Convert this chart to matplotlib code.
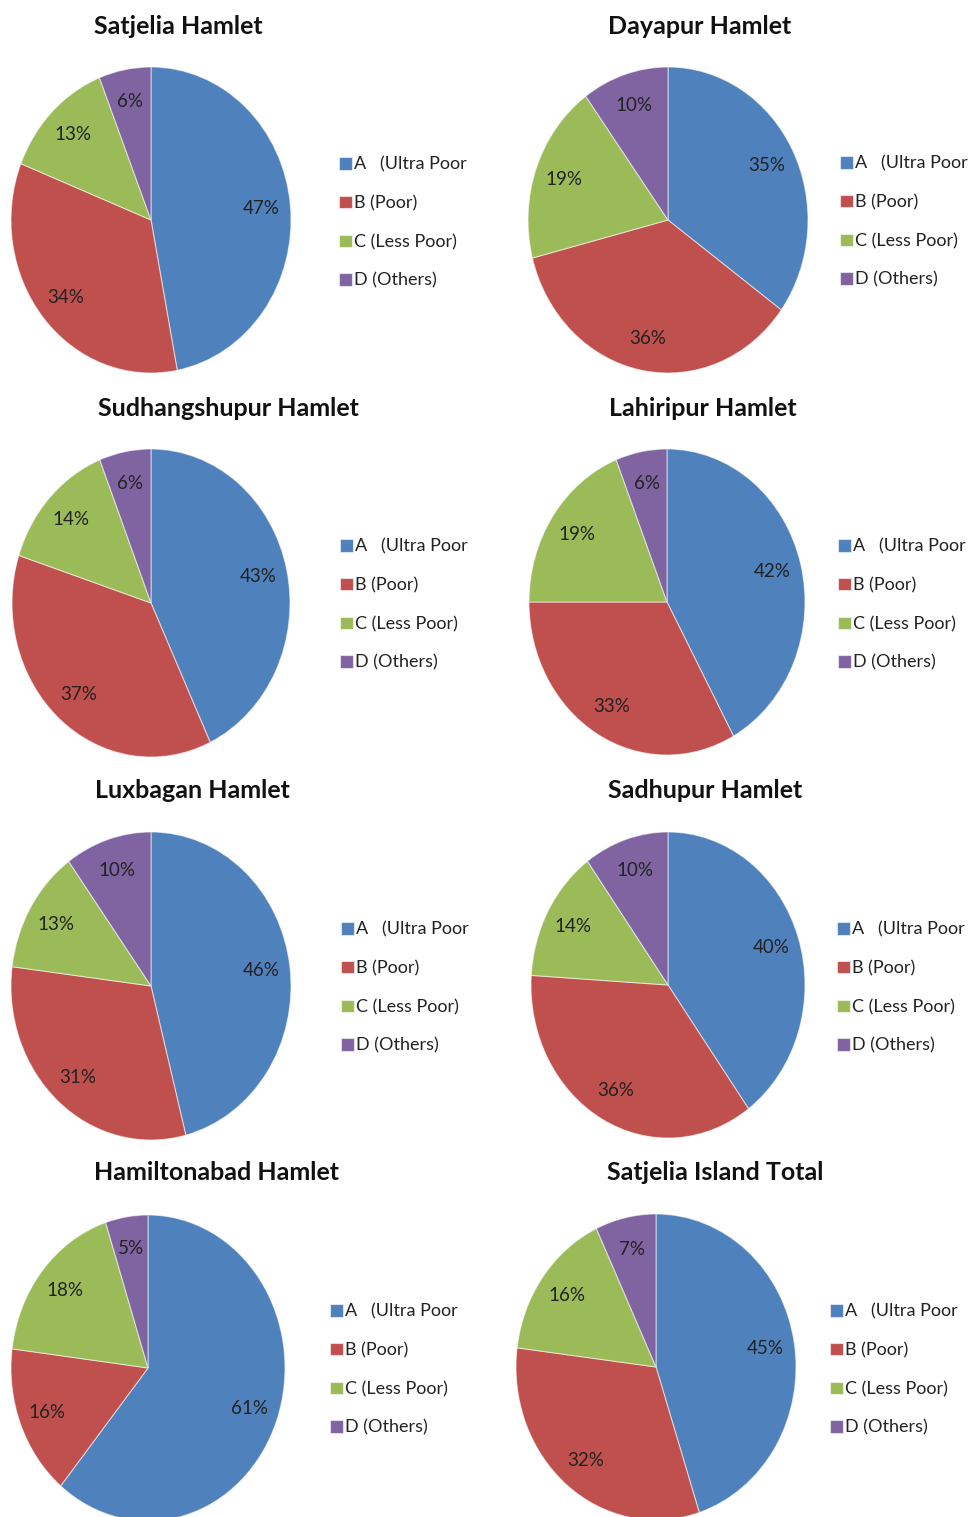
import matplotlib
matplotlib.use("Agg")
import matplotlib.pyplot as plt

plt.rcParams['font.family'] = ['Lato', 'DejaVu Sans']

# data
titles = ["Satjelia Hamlet", "Dayapur Hamlet", "Sudhangshupur Hamlet", "Lahiripur Hamlet",
          "Luxbagan Hamlet", "Sadhupur Hamlet", "Hamiltonabad Hamlet", "Satjelia Island Total"]
categories = ["A   (Ultra Poor", "B (Poor)", "C (Less Poor)", "D (Others)"]
satjelia = [47, 34, 13, 6]
dayapur = [35, 36, 19, 10]
sudhangshupur = [43, 37, 14, 6]
lahiripur = [42, 33, 19, 6]
luxbagan = [46, 31, 13, 10]
sadhupur = [40, 36, 14, 10]
hamiltonabad = [61, 16, 18, 5]
island_total = [45, 32, 16, 7]
series = [satjelia, dayapur, sudhangshupur, lahiripur, luxbagan, sadhupur, hamiltonabad, island_total]

colors = ["#4F81BD", "#C0504D", "#9BBB59", "#8064A2"]

# layout in pixels: pie centre, radii, title centre, legend left / first row
W, H = 969, 1517
pie_c = [(151, 220), (668, 220), (151, 603), (667, 602),
         (151, 986), (668, 985), (148, 1368), (656, 1367)]
pie_r = [(140, 153), (140, 153), (139, 154), (138, 153),
         (140, 154), (137, 153), (137, 153), (140, 153)]
title_pos = [(178, 26), (700, 26), (228, 408), (703, 408),
             (192, 791), (705, 791), (216, 1172), (715, 1172)]
leg_pos = [(339, 165), (840, 164), (340, 547), (838, 547),
           (341, 930), (837, 930), (330, 1312), (830, 1312)]
row_gap = 38.5

fig = plt.figure(figsize=(W / 100, H / 100), dpi=100)
fig.patch.set_facecolor("white")

for i, vals in enumerate(series):
    cx, cy = pie_c[i]
    rx, ry = pie_r[i]
    ax = fig.add_axes([(cx - rx) / W, 1 - (cy + ry) / H, 2 * rx / W, 2 * ry / H])
    wedges, _, autotexts = ax.pie(vals, colors=colors, startangle=90, counterclock=False,
                                  autopct=lambda p: f"{p:.0f}%", pctdistance=0.79,
                                  wedgeprops=dict(edgecolor=(1, 1, 1, 0.55), linewidth=0.8),
                                  textprops=dict(fontsize=13.5, color="#222222"))
    ax.set_aspect("auto")
    ax.set_xlim(-1, 1)
    ax.set_ylim(-1, 1)

    tx, ty = title_pos[i]
    fig.text(tx / W, 1 - ty / H, titles[i], ha="center", va="center",
             fontsize=18, fontweight="bold", color="#111111")

    lx, ly = leg_pos[i]
    mid = ly + 1.5 * row_gap
    fig.legend(wedges, categories, loc="center left",
               bbox_to_anchor=(lx / W, 1 - mid / H), frameon=False,
               fontsize=13, handlelength=0.7, handleheight=0.7, handletextpad=0.15,
               labelspacing=1.25, borderpad=0, borderaxespad=0, labelcolor="#222222")

fig.savefig("out.png", dpi=100)
